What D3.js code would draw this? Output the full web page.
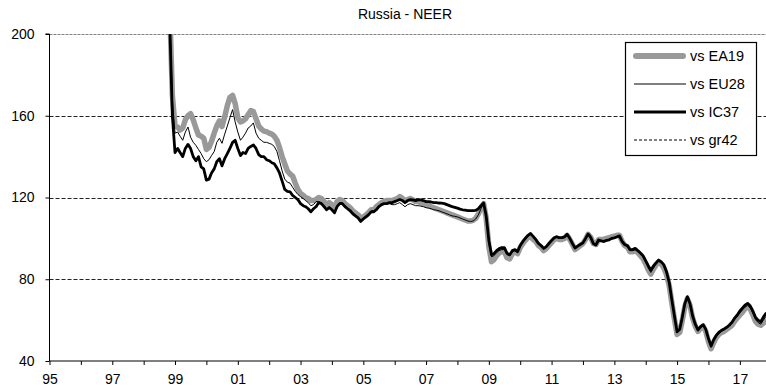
<!DOCTYPE html>
<html>
<head>
<meta charset="utf-8">
<script src="https://cdn.jsdelivr.net/npm/d3@7"></script>
<style>
  html, body { margin: 0; padding: 0; background: #fff; }
  svg { display: block; font-family: "Liberation Sans", Arial, sans-serif; }
</style>
</head>
<body>
<svg id="chart" width="766" height="389"></svg>
<script>
// Russia nominal effective exchange rate, monthly, four partner baskets
const chartTitle = "Russia - NEER";
const firstYear = 1998, firstMonth = 10;          // first observation: Oct 1998
const seriesNames = ["vs EA19", "vs EU28", "vs IC37", "vs gr42"];
const yTickValues = [40, 80, 120, 160, 200];
const xTickYears = [1995,1996,1997,1998,1999,2000,2001,2002,2003,2004,2005,2006,
                    2007,2008,2009,2010,2011,2012,2013,2014,2015,2016,2017];
const xLabelYears = [1995,1997,1999,2001,2003,2005,2007,2009,2011,2013,2015,2017];

const ea19 = [
  300, 212, 170,
  155, 154.5, 153, 154, 158, 160, 161, 158, 154, 150.6, 150, 149,
  143.5, 144.5, 147.5, 151.5, 155, 157.5, 154.7, 159.5, 165, 169, 170, 166,
  159, 157, 157.5, 158.5, 160.5, 162.5, 162, 158.5, 155, 153.5, 152.5, 152.2,
  151.5, 151, 150, 148, 144.5, 140, 136.5, 133, 131.5, 130.5, 127, 124,
  122, 121, 120, 119.5, 118.5, 118.5, 119, 120, 119.5, 118, 116.5, 117.5,
  116.5, 115, 118, 119, 118.5, 117, 116, 115, 113.5, 112.5, 111.5, 110,
  110.5, 111.5, 112.5, 114, 114, 115.5, 116.5, 117.5, 118, 118.5, 118.5, 118.5,
  119, 119.5, 120.5, 119.5, 118.5, 119, 119.5, 118.8, 118, 118, 117.5, 117,
  116.5, 116, 115.5, 115, 114.5, 114, 113.5, 113, 112.5, 112, 111.5, 111,
  110.5, 110, 109.5, 109, 108.5, 108.5, 108.8, 109.8, 112, 115, 117, 110,
  96, 88.6, 89.5, 91.5, 93, 93.5, 93.5, 90.5, 90, 92.5, 93.5, 92.5,
  95.5, 97.5, 99, 100.5, 101, 99.5, 98.5, 96.5, 95.5, 94, 95, 96.5,
  98, 99.5, 100, 99.5, 99.5, 100, 101.5, 99.5, 97, 94.5, 95.5, 96.5,
  97.5, 99.5, 102, 100.5, 97.5, 97, 99.5, 99.5, 99.5, 100, 100.3, 100.8,
  101, 101.5, 101.5, 98.5, 96.5, 95.8, 93.5, 93.5, 94, 93, 91.5, 90,
  87.5, 84.5, 82.5, 85, 87, 88.5, 87.5, 85.5, 82, 77, 68.5, 60.5,
  53, 54, 59.5, 66.5, 70.5, 67, 61, 57, 54.5, 56, 57, 54.5,
  49.5, 46, 49, 51.5, 53, 54, 54.5, 55.5, 56.5, 57.5, 59.5, 61,
  62.5, 64, 65.5, 66.5, 65.5, 62.5, 59.5, 58, 57.5, 58.5, 59.5
];

const eu28 = [
  300, 210, 168,
  151.5, 152, 150, 148, 152, 154.5, 149.5, 147, 145.5, 143.5, 141.5, 139,
  137.5, 138.5, 140.5, 142.5, 147, 149, 146.5, 151, 155, 159, 163, 157,
  152, 148, 149.5, 151.5, 154, 155, 156.5, 151.5, 149, 148, 147, 147,
  146.5, 146, 145, 142.5, 138, 133, 129, 127.5, 127, 125, 123, 121.5,
  120.4, 119.5, 118.5, 117.5, 116, 116.5, 118, 118, 117.5, 116, 114.5, 115.5,
  114.5, 113, 116, 117.5, 117.5, 116, 115, 114, 112.5, 111.5, 110.5, 109,
  110, 111, 112, 113.5, 113.5, 114.5, 115.5, 116.5, 117, 117, 117, 116.5,
  116.5, 117, 117.5, 116.5, 115.5, 116.5, 117, 116.5, 116, 116, 115.8, 115.5,
  115, 114.8, 114.5, 114, 113.8, 113.5, 113, 112.5, 112, 111.5, 111, 110.8,
  110.5, 110, 109.5, 109, 108.5, 108.3, 108.5, 109.5, 111.5, 114.5, 117, 110.5,
  98, 91, 91.5, 93, 94, 94.5, 94.5, 92, 91.5, 93.5, 94, 93,
  96, 98, 99.5, 101, 102, 100.5, 99, 97, 96, 94.8, 95.5, 97,
  98.5, 100, 100.5, 100, 100, 100.3, 101.5, 99.5, 97, 95, 96, 96.8,
  97.5, 99.5, 101.8, 100, 97, 96.5, 98.8, 98.5, 98.2, 98.8, 99, 99.8,
  100, 100.5, 100.8, 98, 96.5, 96, 94, 94, 94.5, 93.5, 92.3, 91,
  88.3, 85.5, 83.3, 85.5, 87.3, 88.8, 88, 86.3, 82.8, 78, 69.5, 61.5,
  53.8, 55, 60.5, 67.5, 71, 67.5, 61.5, 57.5, 54.7, 56.2, 57.2, 55,
  50.5, 46.8, 49.8, 52, 53.5, 54.5, 55.2, 56, 57, 58.3, 60.3, 61.8,
  63.5, 65, 66.3, 67.2, 66, 63.3, 60.3, 58.8, 58, 60, 61.8
];

const ic37 = [
  300, 205, 160,
  142, 144, 142, 140, 144, 146, 144, 140, 138, 140, 135, 134,
  128.5, 129, 132, 134, 137.5, 139, 135.5, 139, 141.5, 144, 147, 148,
  144, 140.5, 142, 141.5, 144, 145, 145.7, 144, 141, 140, 140, 138.5,
  138, 137, 136.5, 134.5, 132, 128, 124, 123, 122.8, 121, 120, 119,
  117, 116, 115.5, 114.5, 113, 114.5, 115.5, 117.5, 117, 115.5, 114, 115,
  114, 112.5, 115.5, 117, 117, 115.5, 114.5, 113.5, 112, 111, 110, 108.3,
  109.5, 110.5, 111.5, 113, 113, 114, 115.5, 116.5, 117, 117, 117.5, 117.5,
  118, 118.5, 119, 118.5, 117.5, 118.5, 119, 118.8, 118.5, 118.8, 118.8, 118.5,
  118, 118, 117.8, 117.5, 117.5, 117.3, 117.2, 117, 116.5, 116, 115.5, 115.2,
  114.8, 114.3, 114, 113.8, 113.6, 113.6, 113.6, 113.7, 114.5, 116, 117.3, 111,
  99, 92, 92.5, 94, 95, 95.5, 95.5, 92.7, 92, 94, 94.5, 93.5,
  96.5, 98.5, 100, 101.5, 102.4, 101, 99.5, 97.5, 96.5, 95.1, 96, 97.5,
  99, 100.3, 100.8, 100.4, 100.4, 100.8, 102, 100, 97.5, 95.3, 96.2, 97,
  97.8, 100, 102.2, 100.5, 97.5, 96.8, 99.2, 98.8, 98.5, 99, 99.3, 100,
  100.3, 100.8, 101.2, 98.5, 97, 96.5, 94.5, 94.5, 95.1, 94, 92.8, 91.5,
  89, 86.5, 84.5, 86.5, 88, 89.4, 88.5, 87, 83.5, 78.5, 70, 62,
  54.3, 55.5, 61, 68, 71.5, 68, 62, 58, 55.2, 56.8, 57.8, 55.5,
  51, 47.3, 50.3, 52.5, 54, 55, 55.7, 56.5, 57.6, 59, 61, 62.5,
  64.5, 66, 67.3, 68.2, 67, 64.5, 61.5, 60, 59.2, 61.5, 63.3
];

const gr42 = [];  // basket has no observations in this window

// ---- layout ----
const W = 766, H = 389;
const plot = { left: 49.5, right: 766, top: 34, bottom: 361 };

const svg = d3.select("#chart");

const x = d3.scaleTime()
  .domain([new Date(1995, 0, 1), new Date(2017, 10, 1)])
  .range([plot.left, plot.right]);
const y = d3.scaleLinear()
  .domain([40, 200])
  .range([plot.bottom, plot.top]);

const monthDate = i => new Date(firstYear, firstMonth - 1 + i, 1);

// horizontal dashed reference lines
svg.append("g").selectAll("line")
  .data(yTickValues.filter(v => v > 40))
  .join("line")
  .attr("x1", plot.left).attr("x2", plot.right)
  .attr("y1", d => Math.round(y(d)) + 0.5).attr("y2", d => Math.round(y(d)) + 0.5)
  .attr("stroke", d => d === 200 ? "#808080" : "#222")
  .attr("stroke-width", 1)
  .attr("stroke-dasharray", d => d === 200 ? "3,1" : "4,2");

// clipped series
svg.append("clipPath").attr("id", "plotClip")
  .append("rect")
  .attr("x", plot.left).attr("y", plot.top)
  .attr("width", plot.right - plot.left).attr("height", plot.bottom - plot.top);

const series = [
  { name: seriesNames[0], values: ea19, color: "#999999", width: 5.5, dash: null },
  { name: seriesNames[2], values: ic37, color: "#000000", width: 2.8, dash: null },
  { name: seriesNames[1], values: eu28, color: "#000000", width: 1,   dash: null },
  { name: seriesNames[3], values: gr42, color: "#000000", width: 1,   dash: "3,2" }
];

const line = d3.line()
  .x((d, i) => x(monthDate(i)))
  .y(d => y(d));

const lines = svg.append("g").attr("clip-path", "url(#plotClip)");
series.forEach(s => {
  if (!s.values.length) return;
  lines.append("path")
    .datum(s.values)
    .attr("d", line)
    .attr("fill", "none")
    .attr("stroke", s.color)
    .attr("stroke-width", s.width)
    .attr("stroke-linejoin", "round")
    .attr("stroke-linecap", "round")
    .attr("stroke-dasharray", s.dash);
});

// y axis
const yAxis = d3.axisLeft(y)
  .tickValues(yTickValues)
  .tickFormat(d3.format("d"))
  .tickSize(4)
  .tickPadding(11);
const gy = svg.append("g")
  .attr("transform", `translate(${plot.left},0)`)
  .call(yAxis);
gy.select(".domain").attr("stroke", "#000").attr("d", `M-4,${plot.top}H0V${plot.bottom}`);
gy.selectAll(".tick line").attr("stroke", "#000");
gy.selectAll(".tick text").attr("font-size", 14).attr("fill", "#000")
  .attr("font-family", "'Liberation Sans', Arial, sans-serif");

// x axis
const xAxis = d3.axisBottom(x)
  .tickValues(xTickYears.map(yr => new Date(yr, 0, 1)))
  .tickFormat(d => xLabelYears.includes(d.getFullYear())
      ? String(d.getFullYear()).slice(2) : "")
  .tickSize(4)
  .tickPadding(9);
const gx = svg.append("g")
  .attr("transform", `translate(0,${plot.bottom})`)
  .call(xAxis);
gx.select(".domain").attr("stroke", "#000").attr("d", `M${plot.left},0H${plot.right}`);
gx.selectAll(".tick line").attr("stroke", "#000");
gx.selectAll(".tick text").attr("font-size", 14).attr("fill", "#000")
  .attr("font-family", "'Liberation Sans', Arial, sans-serif");

// title
svg.append("text")
  .attr("x", 405).attr("y", 19)
  .attr("text-anchor", "middle")
  .attr("font-size", 14)
  .text(chartTitle);

// legend
const legend = svg.append("g");
legend.append("rect")
  .attr("x", 625.5).attr("y", 42.5)
  .attr("width", 131).attr("height", 113)
  .attr("fill", "#fff").attr("stroke", "#000").attr("stroke-width", 1.2);

const legendItems = [
  { label: seriesNames[0], color: "#999999", width: 6,   dash: null },
  { label: seriesNames[1], color: "#000000", width: 1,   dash: null },
  { label: seriesNames[2], color: "#000000", width: 3,   dash: null },
  { label: seriesNames[3], color: "#000000", width: 1,   dash: "3,2" }
];
legendItems.forEach((it, i) => {
  const cy = 56 + i * 28;
  legend.append("line")
    .attr("x1", it.width > 4 ? 636 : 634).attr("x2", it.width > 4 ? 683 : 686)
    .attr("y1", cy).attr("y2", cy)
    .attr("stroke", it.color).attr("stroke-width", it.width)
    .attr("stroke-linecap", it.width > 4 ? "round" : "butt")
    .attr("stroke-dasharray", it.dash);
  legend.append("text")
    .attr("x", 690).attr("y", cy + 5)
    .attr("font-size", 14.5)
    .text(it.label);
});
</script>
</body>
</html>
